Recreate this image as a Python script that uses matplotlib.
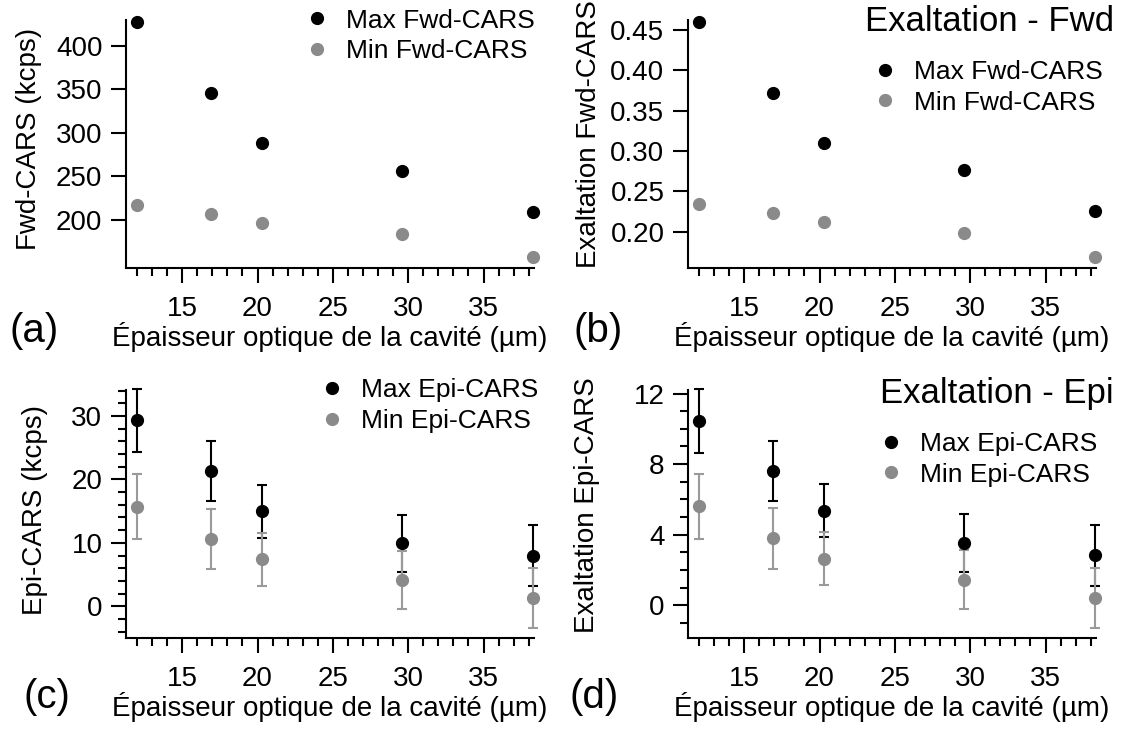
import matplotlib
matplotlib.use("Agg")
import matplotlib.pyplot as plt
from matplotlib.ticker import MultipleLocator, FixedLocator, NullLocator, FormatStrFormatter

plt.rcParams['font.family'] = ['Liberation Sans', 'DejaVu Sans']

# épaisseur optique de la cavité (µm)
epaisseur = [12.0, 16.9, 20.3, 29.6, 38.3]

fwd_max = [427, 346, 288, 256, 209]
fwd_min = [217, 207, 196.5, 184, 157]

exalt_fwd_max = [0.460, 0.3725, 0.310, 0.276, 0.225]
exalt_fwd_min = [0.2337, 0.2229, 0.2112, 0.198, 0.1688]

epi_max = [29.3, 21.3, 15.0, 9.9, 8.0]
epi_max_err = [5.0, 4.75, 4.2, 4.55, 4.75]
epi_min = [15.7, 10.6, 7.4, 4.1, 1.3]
epi_min_err = [5.15, 4.8, 4.2, 4.6, 4.75]

exalt_epi_max = [10.45, 7.6, 5.36, 3.54, 2.84]
exalt_epi_max_err = [1.8, 1.7, 1.5, 1.63, 1.72]
exalt_epi_min = [5.6, 3.79, 2.63, 1.46, 0.44]
exalt_epi_min_err = [1.83, 1.73, 1.5, 1.65, 1.7]

xlabel = "Épaisseur optique de la cavité (µm)"
NOIR = "#000000"
GRIS = "#8a8a8a"
GRIS_ERR = "#9a9a9a"
FS = 20      # graduations et titres d'axes
FS_LEG = 19  # légendes

W, H = 1125, 734
fig = plt.figure(figsize=(W / 100, H / 100), dpi=100)


def axes_px(l, t, r, b):
    return fig.add_axes([l / W, 1 - b / H, (r - l) / W, (b - t) / H])


def style(ax, ylim, yticks, yminor=None):
    ax.set_xlim(11.27, 38.35)
    ax.set_ylim(*ylim)
    for s in ["top", "right"]:
        ax.spines[s].set_visible(False)
    for s in ["left", "bottom"]:
        ax.spines[s].set_linewidth(1.5)
    ax.xaxis.set_major_locator(MultipleLocator(5))
    ax.xaxis.set_minor_locator(MultipleLocator(1))
    ax.yaxis.set_major_locator(FixedLocator(yticks))
    if yminor:
        ax.yaxis.set_minor_locator(MultipleLocator(yminor))
    else:
        ax.yaxis.set_minor_locator(NullLocator())
    ax.tick_params(which="major", direction="out", length=11, width=1.5, labelsize=FS)
    ax.tick_params(which="minor", direction="out", length=5.5, width=1.5)
    ax.tick_params(axis="x", which="major", pad=9.5)
    ax.tick_params(axis="y", which="major", pad=6)
    ax.set_xlabel(xlabel, fontsize=FS, labelpad=0)


def ylab(ax, text, x, y):
    ax.set_ylabel(text, fontsize=FS)
    ax.yaxis.set_label_coords(x, y)
    ax.yaxis.label.set_verticalalignment("center")


def legende(ax, handles, labels, xm, yr):
    em = FS_LEG * 100 / 72
    ax.legend(handles, labels, loc="upper left",
              bbox_to_anchor=((xm - em / 2) / W, 1 - (yr - 11) / H),
              bbox_transform=fig.transFigure, frameon=False, borderpad=0,
              borderaxespad=0, handlelength=1.0, handletextpad=0.6,
              labelspacing=0.25, fontsize=FS_LEG, numpoints=1)


def errbar(ax, y, err, c, ce):
    cont = ax.errorbar(epaisseur, y, yerr=err, fmt="o", color=c, ecolor=ce,
                       ms=8.5, mec=c, elinewidth=1.5, capsize=3.4, capthick=1.5)
    for art in cont.get_children():
        art.set_clip_on(False)
    return cont[0]


# (a)
ax = axes_px(126, 20, 534, 268)
h1, = ax.plot(epaisseur, fwd_max, "o", color=NOIR, ms=8.5, clip_on=False)
h2, = ax.plot(epaisseur, fwd_min, "o", color=GRIS, ms=8.5, clip_on=False)
style(ax, (144.5, 429.5), [200, 250, 300, 350, 400])
ylab(ax, "Fwd-CARS (kcps)", -0.238, 0.52)
legende(ax, [h1, h2], ["Max Fwd-CARS", "Min Fwd-CARS"], 317, 19.5)

# (b)
ax = axes_px(688, 20, 1096, 268)
h1, = ax.plot(epaisseur, exalt_fwd_max, "o", color=NOIR, ms=8.5, clip_on=False)
h2, = ax.plot(epaisseur, exalt_fwd_min, "o", color=GRIS, ms=8.5, clip_on=False)
style(ax, (0.1547, 0.4625), [0.20, 0.25, 0.30, 0.35, 0.40, 0.45])
ax.yaxis.set_major_formatter(FormatStrFormatter("%.2f"))
ylab(ax, "Exaltation Fwd-CARS", -0.243, 0.54)
legende(ax, [h1, h2], ["Max Fwd-CARS", "Min Fwd-CARS"], 885, 71)

# (c)
ax = axes_px(126, 390, 534, 638)
h1 = errbar(ax, epi_max, epi_max_err, NOIR, NOIR)
h2 = errbar(ax, epi_min, epi_min_err, GRIS, GRIS_ERR)
style(ax, (-5, 34.1), [0, 10, 20, 30], 2)
ylab(ax, "Epi-CARS (kcps)", -0.223, 0.516)
legende(ax, [h1, h2], ["Max Epi-CARS", "Min Epi-CARS"], 332, 389.5)

# (d)
ax = axes_px(688, 390, 1096, 638)
h1 = errbar(ax, exalt_epi_max, exalt_epi_max_err, NOIR, NOIR)
h2 = errbar(ax, exalt_epi_min, exalt_epi_min_err, GRIS, GRIS_ERR)
style(ax, (-1.85, 12.2), [0, 4, 8, 12], 1)
ylab(ax, "Exaltation Epi-CARS", -0.247, 0.536)
legende(ax, [h1, h2], ["Max Epi-CARS", "Min Epi-CARS"], 891, 443)

# titres et lettres des panneaux
fig.text(1114 / W, 1 - 31 / H, "Exaltation - Fwd", fontsize=25, ha="right", va="baseline")
fig.text(1114 / W, 1 - 403 / H, "Exaltation - Epi", fontsize=25, ha="right", va="baseline")
for lettre, x, y in [("(a)", 9, 342), ("(b)", 573, 342), ("(c)", 24, 708), ("(d)", 570, 708)]:
    fig.text(x / W, 1 - y / H, lettre, fontsize=29, ha="left", va="baseline")

fig.savefig("out.png", dpi=100)
